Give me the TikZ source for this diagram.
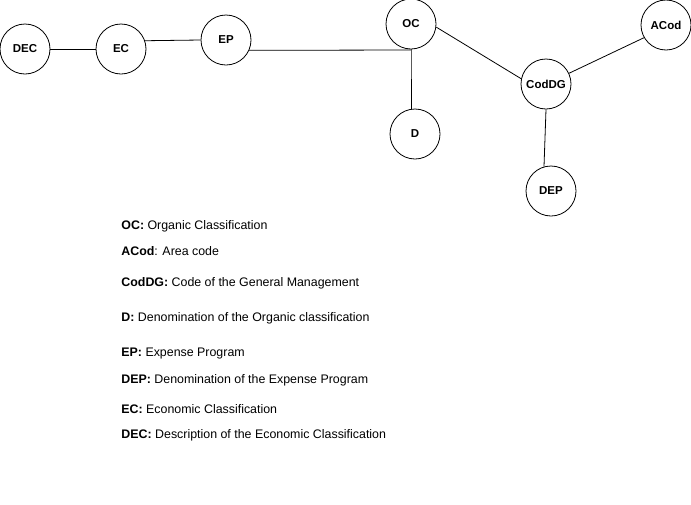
\documentclass[tikz,border=0pt]{standalone}
\usepackage{fontspec}
\setmainfont{Liberation Sans}
\begin{document}
\begin{tikzpicture}[x=1pt, y=-1pt, line width=0.8pt,
    entity/.style={draw, circle, minimum size=50pt, inner sep=0pt, font=\fontsize{11.5}{13}\selectfont\bfseries},
    legend/.style={anchor=west, inner sep=0pt, font=\fontsize{12.4}{14}\selectfont}]
			\useasboundingbox (0,0) rectangle (691,504);
			\node[entity] (DEC) at (25,49) {DEC};
			\node[entity] (EC) at (121,49) {EC};
			\node[entity] (EP) at (226,40) {EP};
			\node[entity] (OC) at (411,24) {OC};
			\node[entity] (D) at (415,134) {D};
			\node[entity] (CodDG) at (546,84) {CodDG};
			\node[entity] (ACod) at (666,25) {ACod};
			\node[entity] (DEP) at (551,191) {DEP};
			\coordinate (join) at (411,50);
			\draw (DEC.east) -- (EC.west);
			\draw (EC.19) -- (EP.west);
			\draw (EP.-24) -- (join);
			\draw (OC.south) -- (join) -- (D.north -| join);
			\draw (OC.-7) -- (CodDG.168);
			\draw (CodDG.25) -- (ACod.-150);
			\draw (CodDG.south) -- (DEP.106);
			\foreach \txt/\y in {{\textbf{OC:} Organic Classification}/226,
			                     {\textbf{ACod}: Area code}/251,
			                     {\textbf{CodDG:} Code of the General Management}/283,
			                     {\textbf{D:} Denomination of the Organic classification}/318,
			                     {\textbf{EP:} Expense Program}/354,
			                     {\textbf{DEP:} Denomination of the Expense Program}/380,
			                     {\textbf{EC:} Economic Classification}/409,
			                     {\textbf{DEC:} Description of the Economic Classification}/435}
			  { \node[legend] (key\y) at (121,\y) {\txt}; }
		\end{tikzpicture}
\end{document}
